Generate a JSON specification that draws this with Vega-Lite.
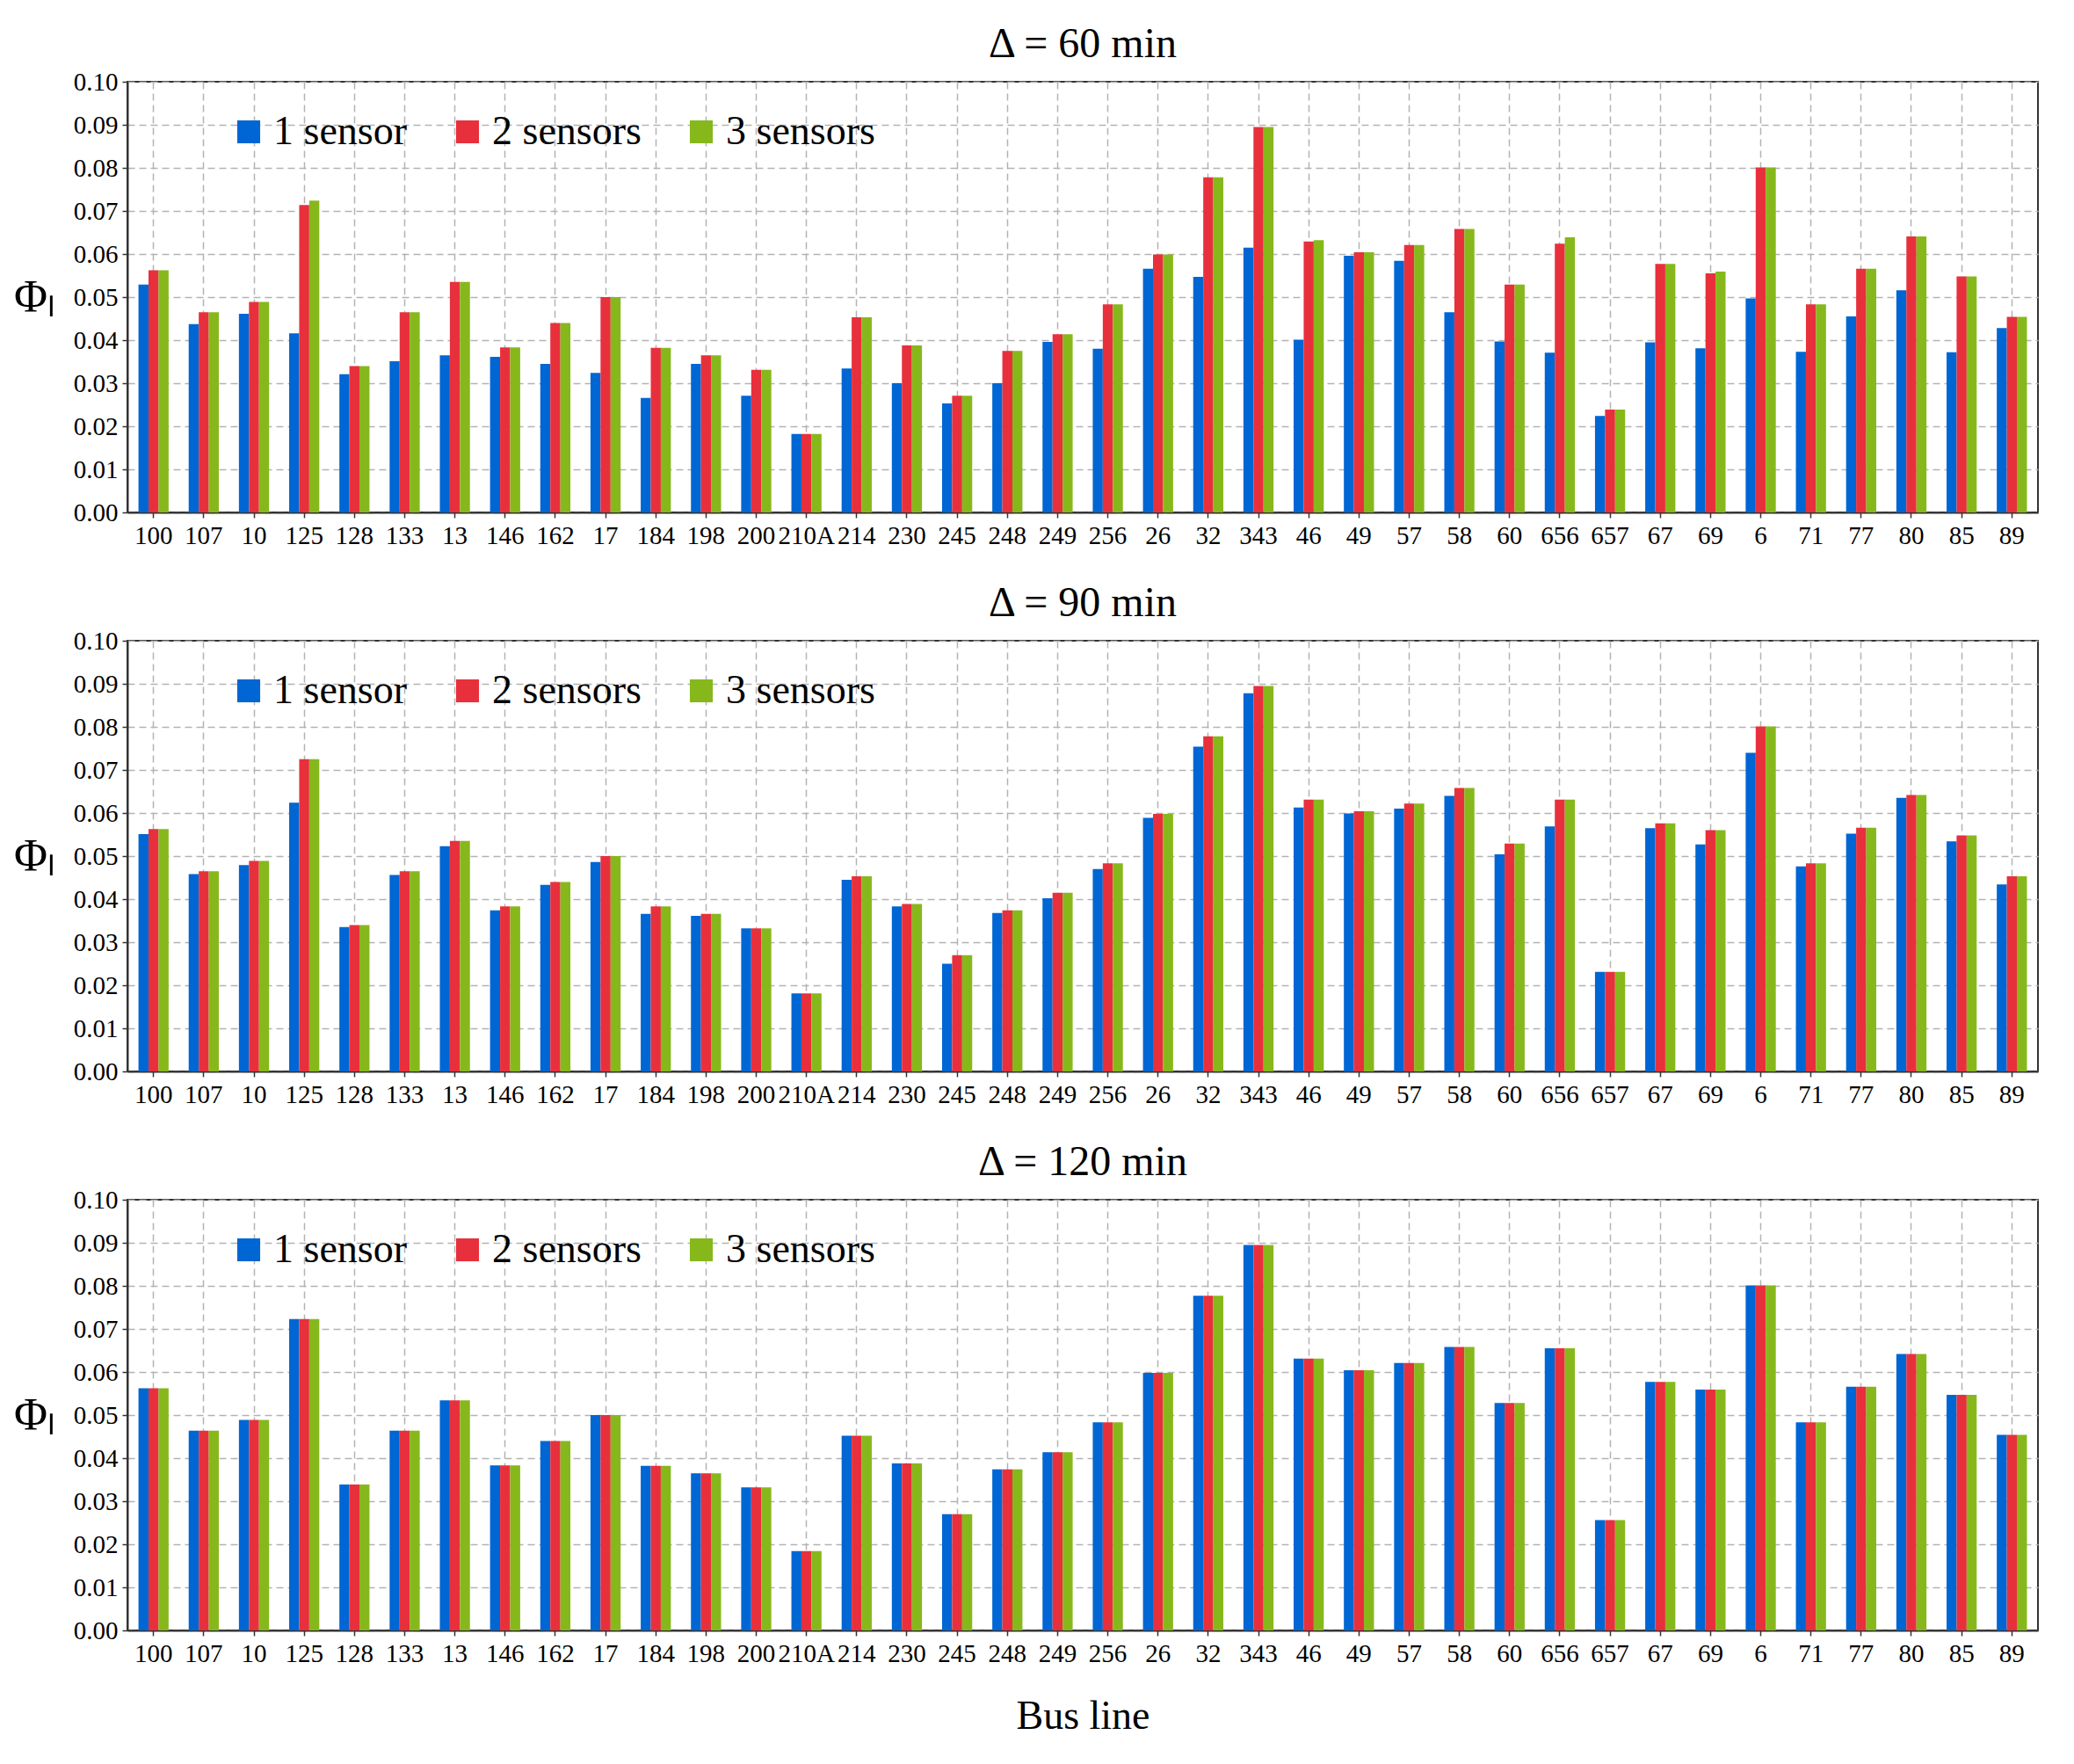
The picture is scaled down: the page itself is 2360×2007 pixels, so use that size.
{
  "$schema": "https://vega.github.io/schema/vega-lite/v6.json",
  "padding": {"left": 14, "top": 26, "right": 20, "bottom": 10},
  "background": "white",
  "datasets": {
    "d60": [
      {"line": "100", "sensors": "1 sensor", "phi": 0.0529}, {"line": "100", "sensors": "2 sensors", "phi": 0.0562}, {"line": "100", "sensors": "3 sensors", "phi": 0.0562},
      {"line": "107", "sensors": "1 sensor", "phi": 0.0437}, {"line": "107", "sensors": "2 sensors", "phi": 0.0465}, {"line": "107", "sensors": "3 sensors", "phi": 0.0465},
      {"line": "10", "sensors": "1 sensor", "phi": 0.0461}, {"line": "10", "sensors": "2 sensors", "phi": 0.0489}, {"line": "10", "sensors": "3 sensors", "phi": 0.0489},
      {"line": "125", "sensors": "1 sensor", "phi": 0.0416}, {"line": "125", "sensors": "2 sensors", "phi": 0.0714}, {"line": "125", "sensors": "3 sensors", "phi": 0.0724},
      {"line": "128", "sensors": "1 sensor", "phi": 0.0321}, {"line": "128", "sensors": "2 sensors", "phi": 0.0340}, {"line": "128", "sensors": "3 sensors", "phi": 0.0340},
      {"line": "133", "sensors": "1 sensor", "phi": 0.0351}, {"line": "133", "sensors": "2 sensors", "phi": 0.0465}, {"line": "133", "sensors": "3 sensors", "phi": 0.0465},
      {"line": "13", "sensors": "1 sensor", "phi": 0.0365}, {"line": "13", "sensors": "2 sensors", "phi": 0.0535}, {"line": "13", "sensors": "3 sensors", "phi": 0.0535},
      {"line": "146", "sensors": "1 sensor", "phi": 0.0361}, {"line": "146", "sensors": "2 sensors", "phi": 0.0383}, {"line": "146", "sensors": "3 sensors", "phi": 0.0383},
      {"line": "162", "sensors": "1 sensor", "phi": 0.0345}, {"line": "162", "sensors": "2 sensors", "phi": 0.0440}, {"line": "162", "sensors": "3 sensors", "phi": 0.0440},
      {"line": "17", "sensors": "1 sensor", "phi": 0.0324}, {"line": "17", "sensors": "2 sensors", "phi": 0.0500}, {"line": "17", "sensors": "3 sensors", "phi": 0.0500},
      {"line": "184", "sensors": "1 sensor", "phi": 0.0266}, {"line": "184", "sensors": "2 sensors", "phi": 0.0382}, {"line": "184", "sensors": "3 sensors", "phi": 0.0382},
      {"line": "198", "sensors": "1 sensor", "phi": 0.0345}, {"line": "198", "sensors": "2 sensors", "phi": 0.0365}, {"line": "198", "sensors": "3 sensors", "phi": 0.0365},
      {"line": "200", "sensors": "1 sensor", "phi": 0.0271}, {"line": "200", "sensors": "2 sensors", "phi": 0.0331}, {"line": "200", "sensors": "3 sensors", "phi": 0.0331},
      {"line": "210A", "sensors": "1 sensor", "phi": 0.0182}, {"line": "210A", "sensors": "2 sensors", "phi": 0.0182}, {"line": "210A", "sensors": "3 sensors", "phi": 0.0182},
      {"line": "214", "sensors": "1 sensor", "phi": 0.0334}, {"line": "214", "sensors": "2 sensors", "phi": 0.0453}, {"line": "214", "sensors": "3 sensors", "phi": 0.0453},
      {"line": "230", "sensors": "1 sensor", "phi": 0.0300}, {"line": "230", "sensors": "2 sensors", "phi": 0.0388}, {"line": "230", "sensors": "3 sensors", "phi": 0.0388},
      {"line": "245", "sensors": "1 sensor", "phi": 0.0253}, {"line": "245", "sensors": "2 sensors", "phi": 0.0271}, {"line": "245", "sensors": "3 sensors", "phi": 0.0271},
      {"line": "248", "sensors": "1 sensor", "phi": 0.0300}, {"line": "248", "sensors": "2 sensors", "phi": 0.0375}, {"line": "248", "sensors": "3 sensors", "phi": 0.0375},
      {"line": "249", "sensors": "1 sensor", "phi": 0.0396}, {"line": "249", "sensors": "2 sensors", "phi": 0.0414}, {"line": "249", "sensors": "3 sensors", "phi": 0.0414},
      {"line": "256", "sensors": "1 sensor", "phi": 0.0380}, {"line": "256", "sensors": "2 sensors", "phi": 0.0483}, {"line": "256", "sensors": "3 sensors", "phi": 0.0483},
      {"line": "26", "sensors": "1 sensor", "phi": 0.0566}, {"line": "26", "sensors": "2 sensors", "phi": 0.0599}, {"line": "26", "sensors": "3 sensors", "phi": 0.0599},
      {"line": "32", "sensors": "1 sensor", "phi": 0.0547}, {"line": "32", "sensors": "2 sensors", "phi": 0.0778}, {"line": "32", "sensors": "3 sensors", "phi": 0.0778},
      {"line": "343", "sensors": "1 sensor", "phi": 0.0615}, {"line": "343", "sensors": "2 sensors", "phi": 0.0895}, {"line": "343", "sensors": "3 sensors", "phi": 0.0895},
      {"line": "46", "sensors": "1 sensor", "phi": 0.0401}, {"line": "46", "sensors": "2 sensors", "phi": 0.0629}, {"line": "46", "sensors": "3 sensors", "phi": 0.0632},
      {"line": "49", "sensors": "1 sensor", "phi": 0.0596}, {"line": "49", "sensors": "2 sensors", "phi": 0.0604}, {"line": "49", "sensors": "3 sensors", "phi": 0.0604},
      {"line": "57", "sensors": "1 sensor", "phi": 0.0584}, {"line": "57", "sensors": "2 sensors", "phi": 0.0621}, {"line": "57", "sensors": "3 sensors", "phi": 0.0621},
      {"line": "58", "sensors": "1 sensor", "phi": 0.0465}, {"line": "58", "sensors": "2 sensors", "phi": 0.0658}, {"line": "58", "sensors": "3 sensors", "phi": 0.0658},
      {"line": "60", "sensors": "1 sensor", "phi": 0.0397}, {"line": "60", "sensors": "2 sensors", "phi": 0.0529}, {"line": "60", "sensors": "3 sensors", "phi": 0.0529},
      {"line": "656", "sensors": "1 sensor", "phi": 0.0371}, {"line": "656", "sensors": "2 sensors", "phi": 0.0624}, {"line": "656", "sensors": "3 sensors", "phi": 0.0639},
      {"line": "657", "sensors": "1 sensor", "phi": 0.0224}, {"line": "657", "sensors": "2 sensors", "phi": 0.0239}, {"line": "657", "sensors": "3 sensors", "phi": 0.0239},
      {"line": "67", "sensors": "1 sensor", "phi": 0.0395}, {"line": "67", "sensors": "2 sensors", "phi": 0.0577}, {"line": "67", "sensors": "3 sensors", "phi": 0.0577},
      {"line": "69", "sensors": "1 sensor", "phi": 0.0381}, {"line": "69", "sensors": "2 sensors", "phi": 0.0555}, {"line": "69", "sensors": "3 sensors", "phi": 0.0559},
      {"line": "6", "sensors": "1 sensor", "phi": 0.0497}, {"line": "6", "sensors": "2 sensors", "phi": 0.0801}, {"line": "6", "sensors": "3 sensors", "phi": 0.0801},
      {"line": "71", "sensors": "1 sensor", "phi": 0.0373}, {"line": "71", "sensors": "2 sensors", "phi": 0.0483}, {"line": "71", "sensors": "3 sensors", "phi": 0.0483},
      {"line": "77", "sensors": "1 sensor", "phi": 0.0455}, {"line": "77", "sensors": "2 sensors", "phi": 0.0566}, {"line": "77", "sensors": "3 sensors", "phi": 0.0566},
      {"line": "80", "sensors": "1 sensor", "phi": 0.0516}, {"line": "80", "sensors": "2 sensors", "phi": 0.0641}, {"line": "80", "sensors": "3 sensors", "phi": 0.0641},
      {"line": "85", "sensors": "1 sensor", "phi": 0.0372}, {"line": "85", "sensors": "2 sensors", "phi": 0.0548}, {"line": "85", "sensors": "3 sensors", "phi": 0.0548},
      {"line": "89", "sensors": "1 sensor", "phi": 0.0428}, {"line": "89", "sensors": "2 sensors", "phi": 0.0454}, {"line": "89", "sensors": "3 sensors", "phi": 0.0454}
    ],
    "d90": [
      {"line": "100", "sensors": "1 sensor", "phi": 0.0551}, {"line": "100", "sensors": "2 sensors", "phi": 0.0563}, {"line": "100", "sensors": "3 sensors", "phi": 0.0563},
      {"line": "107", "sensors": "1 sensor", "phi": 0.0458}, {"line": "107", "sensors": "2 sensors", "phi": 0.0465}, {"line": "107", "sensors": "3 sensors", "phi": 0.0465},
      {"line": "10", "sensors": "1 sensor", "phi": 0.0479}, {"line": "10", "sensors": "2 sensors", "phi": 0.0489}, {"line": "10", "sensors": "3 sensors", "phi": 0.0489},
      {"line": "125", "sensors": "1 sensor", "phi": 0.0624}, {"line": "125", "sensors": "2 sensors", "phi": 0.0725}, {"line": "125", "sensors": "3 sensors", "phi": 0.0725},
      {"line": "128", "sensors": "1 sensor", "phi": 0.0335}, {"line": "128", "sensors": "2 sensors", "phi": 0.0340}, {"line": "128", "sensors": "3 sensors", "phi": 0.0340},
      {"line": "133", "sensors": "1 sensor", "phi": 0.0456}, {"line": "133", "sensors": "2 sensors", "phi": 0.0465}, {"line": "133", "sensors": "3 sensors", "phi": 0.0465},
      {"line": "13", "sensors": "1 sensor", "phi": 0.0523}, {"line": "13", "sensors": "2 sensors", "phi": 0.0535}, {"line": "13", "sensors": "3 sensors", "phi": 0.0535},
      {"line": "146", "sensors": "1 sensor", "phi": 0.0374}, {"line": "146", "sensors": "2 sensors", "phi": 0.0383}, {"line": "146", "sensors": "3 sensors", "phi": 0.0383},
      {"line": "162", "sensors": "1 sensor", "phi": 0.0433}, {"line": "162", "sensors": "2 sensors", "phi": 0.0440}, {"line": "162", "sensors": "3 sensors", "phi": 0.0440},
      {"line": "17", "sensors": "1 sensor", "phi": 0.0486}, {"line": "17", "sensors": "2 sensors", "phi": 0.0500}, {"line": "17", "sensors": "3 sensors", "phi": 0.0500},
      {"line": "184", "sensors": "1 sensor", "phi": 0.0366}, {"line": "184", "sensors": "2 sensors", "phi": 0.0383}, {"line": "184", "sensors": "3 sensors", "phi": 0.0383},
      {"line": "198", "sensors": "1 sensor", "phi": 0.0361}, {"line": "198", "sensors": "2 sensors", "phi": 0.0366}, {"line": "198", "sensors": "3 sensors", "phi": 0.0366},
      {"line": "200", "sensors": "1 sensor", "phi": 0.0332}, {"line": "200", "sensors": "2 sensors", "phi": 0.0332}, {"line": "200", "sensors": "3 sensors", "phi": 0.0332},
      {"line": "210A", "sensors": "1 sensor", "phi": 0.0181}, {"line": "210A", "sensors": "2 sensors", "phi": 0.0181}, {"line": "210A", "sensors": "3 sensors", "phi": 0.0181},
      {"line": "214", "sensors": "1 sensor", "phi": 0.0445}, {"line": "214", "sensors": "2 sensors", "phi": 0.0453}, {"line": "214", "sensors": "3 sensors", "phi": 0.0453},
      {"line": "230", "sensors": "1 sensor", "phi": 0.0383}, {"line": "230", "sensors": "2 sensors", "phi": 0.0389}, {"line": "230", "sensors": "3 sensors", "phi": 0.0389},
      {"line": "245", "sensors": "1 sensor", "phi": 0.0250}, {"line": "245", "sensors": "2 sensors", "phi": 0.0270}, {"line": "245", "sensors": "3 sensors", "phi": 0.0270},
      {"line": "248", "sensors": "1 sensor", "phi": 0.0368}, {"line": "248", "sensors": "2 sensors", "phi": 0.0374}, {"line": "248", "sensors": "3 sensors", "phi": 0.0374},
      {"line": "249", "sensors": "1 sensor", "phi": 0.0402}, {"line": "249", "sensors": "2 sensors", "phi": 0.0415}, {"line": "249", "sensors": "3 sensors", "phi": 0.0415},
      {"line": "256", "sensors": "1 sensor", "phi": 0.0470}, {"line": "256", "sensors": "2 sensors", "phi": 0.0483}, {"line": "256", "sensors": "3 sensors", "phi": 0.0483},
      {"line": "26", "sensors": "1 sensor", "phi": 0.0589}, {"line": "26", "sensors": "2 sensors", "phi": 0.0598}, {"line": "26", "sensors": "3 sensors", "phi": 0.0598},
      {"line": "32", "sensors": "1 sensor", "phi": 0.0754}, {"line": "32", "sensors": "2 sensors", "phi": 0.0778}, {"line": "32", "sensors": "3 sensors", "phi": 0.0778},
      {"line": "343", "sensors": "1 sensor", "phi": 0.0878}, {"line": "343", "sensors": "2 sensors", "phi": 0.0895}, {"line": "343", "sensors": "3 sensors", "phi": 0.0895},
      {"line": "46", "sensors": "1 sensor", "phi": 0.0613}, {"line": "46", "sensors": "2 sensors", "phi": 0.0631}, {"line": "46", "sensors": "3 sensors", "phi": 0.0631},
      {"line": "49", "sensors": "1 sensor", "phi": 0.0599}, {"line": "49", "sensors": "2 sensors", "phi": 0.0604}, {"line": "49", "sensors": "3 sensors", "phi": 0.0604},
      {"line": "57", "sensors": "1 sensor", "phi": 0.0610}, {"line": "57", "sensors": "2 sensors", "phi": 0.0622}, {"line": "57", "sensors": "3 sensors", "phi": 0.0622},
      {"line": "58", "sensors": "1 sensor", "phi": 0.0640}, {"line": "58", "sensors": "2 sensors", "phi": 0.0658}, {"line": "58", "sensors": "3 sensors", "phi": 0.0658},
      {"line": "60", "sensors": "1 sensor", "phi": 0.0504}, {"line": "60", "sensors": "2 sensors", "phi": 0.0529}, {"line": "60", "sensors": "3 sensors", "phi": 0.0529},
      {"line": "656", "sensors": "1 sensor", "phi": 0.0569}, {"line": "656", "sensors": "2 sensors", "phi": 0.0631}, {"line": "656", "sensors": "3 sensors", "phi": 0.0631},
      {"line": "657", "sensors": "1 sensor", "phi": 0.0231}, {"line": "657", "sensors": "2 sensors", "phi": 0.0231}, {"line": "657", "sensors": "3 sensors", "phi": 0.0231},
      {"line": "67", "sensors": "1 sensor", "phi": 0.0565}, {"line": "67", "sensors": "2 sensors", "phi": 0.0576}, {"line": "67", "sensors": "3 sensors", "phi": 0.0576},
      {"line": "69", "sensors": "1 sensor", "phi": 0.0527}, {"line": "69", "sensors": "2 sensors", "phi": 0.0560}, {"line": "69", "sensors": "3 sensors", "phi": 0.0560},
      {"line": "6", "sensors": "1 sensor", "phi": 0.0740}, {"line": "6", "sensors": "2 sensors", "phi": 0.0801}, {"line": "6", "sensors": "3 sensors", "phi": 0.0801},
      {"line": "71", "sensors": "1 sensor", "phi": 0.0476}, {"line": "71", "sensors": "2 sensors", "phi": 0.0483}, {"line": "71", "sensors": "3 sensors", "phi": 0.0483},
      {"line": "77", "sensors": "1 sensor", "phi": 0.0552}, {"line": "77", "sensors": "2 sensors", "phi": 0.0566}, {"line": "77", "sensors": "3 sensors", "phi": 0.0566},
      {"line": "80", "sensors": "1 sensor", "phi": 0.0635}, {"line": "80", "sensors": "2 sensors", "phi": 0.0642}, {"line": "80", "sensors": "3 sensors", "phi": 0.0642},
      {"line": "85", "sensors": "1 sensor", "phi": 0.0534}, {"line": "85", "sensors": "2 sensors", "phi": 0.0548}, {"line": "85", "sensors": "3 sensors", "phi": 0.0548},
      {"line": "89", "sensors": "1 sensor", "phi": 0.0434}, {"line": "89", "sensors": "2 sensors", "phi": 0.0453}, {"line": "89", "sensors": "3 sensors", "phi": 0.0453}
    ],
    "d120": [
      {"line": "100", "sensors": "1 sensor", "phi": 0.0562}, {"line": "100", "sensors": "2 sensors", "phi": 0.0562}, {"line": "100", "sensors": "3 sensors", "phi": 0.0562},
      {"line": "107", "sensors": "1 sensor", "phi": 0.0464}, {"line": "107", "sensors": "2 sensors", "phi": 0.0464}, {"line": "107", "sensors": "3 sensors", "phi": 0.0464},
      {"line": "10", "sensors": "1 sensor", "phi": 0.0489}, {"line": "10", "sensors": "2 sensors", "phi": 0.0489}, {"line": "10", "sensors": "3 sensors", "phi": 0.0489},
      {"line": "125", "sensors": "1 sensor", "phi": 0.0723}, {"line": "125", "sensors": "2 sensors", "phi": 0.0723}, {"line": "125", "sensors": "3 sensors", "phi": 0.0723},
      {"line": "128", "sensors": "1 sensor", "phi": 0.0339}, {"line": "128", "sensors": "2 sensors", "phi": 0.0339}, {"line": "128", "sensors": "3 sensors", "phi": 0.0339},
      {"line": "133", "sensors": "1 sensor", "phi": 0.0464}, {"line": "133", "sensors": "2 sensors", "phi": 0.0464}, {"line": "133", "sensors": "3 sensors", "phi": 0.0464},
      {"line": "13", "sensors": "1 sensor", "phi": 0.0534}, {"line": "13", "sensors": "2 sensors", "phi": 0.0534}, {"line": "13", "sensors": "3 sensors", "phi": 0.0534},
      {"line": "146", "sensors": "1 sensor", "phi": 0.0383}, {"line": "146", "sensors": "2 sensors", "phi": 0.0383}, {"line": "146", "sensors": "3 sensors", "phi": 0.0383},
      {"line": "162", "sensors": "1 sensor", "phi": 0.0440}, {"line": "162", "sensors": "2 sensors", "phi": 0.0440}, {"line": "162", "sensors": "3 sensors", "phi": 0.0440},
      {"line": "17", "sensors": "1 sensor", "phi": 0.0500}, {"line": "17", "sensors": "2 sensors", "phi": 0.0500}, {"line": "17", "sensors": "3 sensors", "phi": 0.0500},
      {"line": "184", "sensors": "1 sensor", "phi": 0.0382}, {"line": "184", "sensors": "2 sensors", "phi": 0.0382}, {"line": "184", "sensors": "3 sensors", "phi": 0.0382},
      {"line": "198", "sensors": "1 sensor", "phi": 0.0365}, {"line": "198", "sensors": "2 sensors", "phi": 0.0365}, {"line": "198", "sensors": "3 sensors", "phi": 0.0365},
      {"line": "200", "sensors": "1 sensor", "phi": 0.0332}, {"line": "200", "sensors": "2 sensors", "phi": 0.0332}, {"line": "200", "sensors": "3 sensors", "phi": 0.0332},
      {"line": "210A", "sensors": "1 sensor", "phi": 0.0184}, {"line": "210A", "sensors": "2 sensors", "phi": 0.0184}, {"line": "210A", "sensors": "3 sensors", "phi": 0.0184},
      {"line": "214", "sensors": "1 sensor", "phi": 0.0452}, {"line": "214", "sensors": "2 sensors", "phi": 0.0452}, {"line": "214", "sensors": "3 sensors", "phi": 0.0452},
      {"line": "230", "sensors": "1 sensor", "phi": 0.0388}, {"line": "230", "sensors": "2 sensors", "phi": 0.0388}, {"line": "230", "sensors": "3 sensors", "phi": 0.0388},
      {"line": "245", "sensors": "1 sensor", "phi": 0.0270}, {"line": "245", "sensors": "2 sensors", "phi": 0.0270}, {"line": "245", "sensors": "3 sensors", "phi": 0.0270},
      {"line": "248", "sensors": "1 sensor", "phi": 0.0374}, {"line": "248", "sensors": "2 sensors", "phi": 0.0374}, {"line": "248", "sensors": "3 sensors", "phi": 0.0374},
      {"line": "249", "sensors": "1 sensor", "phi": 0.0414}, {"line": "249", "sensors": "2 sensors", "phi": 0.0414}, {"line": "249", "sensors": "3 sensors", "phi": 0.0414},
      {"line": "256", "sensors": "1 sensor", "phi": 0.0483}, {"line": "256", "sensors": "2 sensors", "phi": 0.0483}, {"line": "256", "sensors": "3 sensors", "phi": 0.0483},
      {"line": "26", "sensors": "1 sensor", "phi": 0.0598}, {"line": "26", "sensors": "2 sensors", "phi": 0.0598}, {"line": "26", "sensors": "3 sensors", "phi": 0.0598},
      {"line": "32", "sensors": "1 sensor", "phi": 0.0777}, {"line": "32", "sensors": "2 sensors", "phi": 0.0777}, {"line": "32", "sensors": "3 sensors", "phi": 0.0777},
      {"line": "343", "sensors": "1 sensor", "phi": 0.0895}, {"line": "343", "sensors": "2 sensors", "phi": 0.0895}, {"line": "343", "sensors": "3 sensors", "phi": 0.0895},
      {"line": "46", "sensors": "1 sensor", "phi": 0.0631}, {"line": "46", "sensors": "2 sensors", "phi": 0.0631}, {"line": "46", "sensors": "3 sensors", "phi": 0.0631},
      {"line": "49", "sensors": "1 sensor", "phi": 0.0604}, {"line": "49", "sensors": "2 sensors", "phi": 0.0604}, {"line": "49", "sensors": "3 sensors", "phi": 0.0604},
      {"line": "57", "sensors": "1 sensor", "phi": 0.0621}, {"line": "57", "sensors": "2 sensors", "phi": 0.0621}, {"line": "57", "sensors": "3 sensors", "phi": 0.0621},
      {"line": "58", "sensors": "1 sensor", "phi": 0.0658}, {"line": "58", "sensors": "2 sensors", "phi": 0.0658}, {"line": "58", "sensors": "3 sensors", "phi": 0.0658},
      {"line": "60", "sensors": "1 sensor", "phi": 0.0528}, {"line": "60", "sensors": "2 sensors", "phi": 0.0528}, {"line": "60", "sensors": "3 sensors", "phi": 0.0528},
      {"line": "656", "sensors": "1 sensor", "phi": 0.0655}, {"line": "656", "sensors": "2 sensors", "phi": 0.0655}, {"line": "656", "sensors": "3 sensors", "phi": 0.0655},
      {"line": "657", "sensors": "1 sensor", "phi": 0.0256}, {"line": "657", "sensors": "2 sensors", "phi": 0.0256}, {"line": "657", "sensors": "3 sensors", "phi": 0.0256},
      {"line": "67", "sensors": "1 sensor", "phi": 0.0577}, {"line": "67", "sensors": "2 sensors", "phi": 0.0577}, {"line": "67", "sensors": "3 sensors", "phi": 0.0577},
      {"line": "69", "sensors": "1 sensor", "phi": 0.0559}, {"line": "69", "sensors": "2 sensors", "phi": 0.0559}, {"line": "69", "sensors": "3 sensors", "phi": 0.0559},
      {"line": "6", "sensors": "1 sensor", "phi": 0.0801}, {"line": "6", "sensors": "2 sensors", "phi": 0.0801}, {"line": "6", "sensors": "3 sensors", "phi": 0.0801},
      {"line": "71", "sensors": "1 sensor", "phi": 0.0483}, {"line": "71", "sensors": "2 sensors", "phi": 0.0483}, {"line": "71", "sensors": "3 sensors", "phi": 0.0483},
      {"line": "77", "sensors": "1 sensor", "phi": 0.0566}, {"line": "77", "sensors": "2 sensors", "phi": 0.0566}, {"line": "77", "sensors": "3 sensors", "phi": 0.0566},
      {"line": "80", "sensors": "1 sensor", "phi": 0.0642}, {"line": "80", "sensors": "2 sensors", "phi": 0.0642}, {"line": "80", "sensors": "3 sensors", "phi": 0.0642},
      {"line": "85", "sensors": "1 sensor", "phi": 0.0547}, {"line": "85", "sensors": "2 sensors", "phi": 0.0547}, {"line": "85", "sensors": "3 sensors", "phi": 0.0547},
      {"line": "89", "sensors": "1 sensor", "phi": 0.0454}, {"line": "89", "sensors": "2 sensors", "phi": 0.0454}, {"line": "89", "sensors": "3 sensors", "phi": 0.0454}
    ]
  },
  "spacing": 37,
  "resolve": {"legend": {"color": "independent"}},
  "vconcat": [
    {
      "title": "Δ = 60 min",
      "data": {"name": "d60"},
      "width": 2174,
      "height": 490,
      "mark": "bar",
      "encoding": {
        "x": {"field": "line", "type": "nominal", "sort": null, "scale": {"paddingInner": 0, "paddingOuter": 0.02}, "axis": {"title": null, "labelAngle": 0, "bandPosition": 0.5}},
        "xOffset": {"field": "sensors", "type": "nominal", "scale": {"paddingInner": 0, "paddingOuter": 1}},
        "y": {"field": "phi", "type": "quantitative", "scale": {"domain": [0, 0.1], "nice": false}, "axis": {"title": "Φₗ", "format": ".2f", "values": [0, 0.01, 0.02, 0.03, 0.04, 0.05, 0.06, 0.07, 0.08, 0.09, 0.1]}},
        "color": {"field": "sensors", "type": "nominal", "scale": {"domain": ["1 sensor", "2 sensors", "3 sensors"], "range": ["#0066d4", "#e8303c", "#86b81c"]}, "legend": {"title": null, "orient": "none", "legendX": 115, "legendY": 34, "labelFont": "Liberation Serif", "encode": {"symbols": {"update": {"fill": {"signal": "datum.value === '1 sensor' ? '#4472c4' : datum.value === '2 sensors' ? '#e8303a' : '#86b81c'"}}}}}}
      }
    },
    {
      "title": "Δ = 90 min",
      "data": {"name": "d90"},
      "width": 2174,
      "height": 490,
      "mark": "bar",
      "encoding": {
        "x": {"field": "line", "type": "nominal", "sort": null, "scale": {"paddingInner": 0, "paddingOuter": 0.02}, "axis": {"title": null, "labelAngle": 0, "bandPosition": 0.5}},
        "xOffset": {"field": "sensors", "type": "nominal", "scale": {"paddingInner": 0, "paddingOuter": 1}},
        "y": {"field": "phi", "type": "quantitative", "scale": {"domain": [0, 0.1], "nice": false}, "axis": {"title": "Φₗ", "format": ".2f", "values": [0, 0.01, 0.02, 0.03, 0.04, 0.05, 0.06, 0.07, 0.08, 0.09, 0.1]}},
        "color": {"field": "sensors", "type": "nominal", "scale": {"domain": ["1 sensor", "2 sensors", "3 sensors"], "range": ["#0066d4", "#e8303c", "#86b81c"]}, "legend": {"title": null, "orient": "none", "legendX": 115, "legendY": 34, "labelFont": "Liberation Serif", "encode": {"symbols": {"update": {"fill": {"signal": "datum.value === '1 sensor' ? '#4472c4' : datum.value === '2 sensors' ? '#e8303a' : '#86b81c'"}}}}}}
      }
    },
    {
      "title": "Δ = 120 min",
      "data": {"name": "d120"},
      "width": 2174,
      "height": 490,
      "mark": "bar",
      "encoding": {
        "x": {"field": "line", "type": "nominal", "sort": null, "scale": {"paddingInner": 0, "paddingOuter": 0.02}, "axis": {"title": "Bus line", "labelAngle": 0, "bandPosition": 0.5}},
        "xOffset": {"field": "sensors", "type": "nominal", "scale": {"paddingInner": 0, "paddingOuter": 1}},
        "y": {"field": "phi", "type": "quantitative", "scale": {"domain": [0, 0.1], "nice": false}, "axis": {"title": "Φₗ", "format": ".2f", "values": [0, 0.01, 0.02, 0.03, 0.04, 0.05, 0.06, 0.07, 0.08, 0.09, 0.1]}},
        "color": {"field": "sensors", "type": "nominal", "scale": {"domain": ["1 sensor", "2 sensors", "3 sensors"], "range": ["#0066d4", "#e8303c", "#86b81c"]}, "legend": {"title": null, "orient": "none", "legendX": 115, "legendY": 34, "labelFont": "Liberation Serif", "encode": {"symbols": {"update": {"fill": {"signal": "datum.value === '1 sensor' ? '#4472c4' : datum.value === '2 sensors' ? '#e8303a' : '#86b81c'"}}}}}}
      }
    }
  ],
  "config": {
    "font": "Liberation Serif",
    "view": {"stroke": "#333333", "strokeWidth": 2},
    "title": {"font": "Liberation Serif", "fontSize": 48, "fontWeight": "normal", "color": "black", "anchor": "middle", "offset": 4},
    "axis": {
      "labelFont": "Liberation Serif",
      "labelFontSize": 29,
      "labelColor": "black",
      "titleFont": "Liberation Serif",
      "titleFontWeight": "normal",
      "titleColor": "black",
      "grid": true,
      "gridColor": "#b3b3b3",
      "gridDash": [8, 5],
      "gridWidth": 1.5,
      "gridOpacity": 1,
      "domainColor": "#333333",
      "domainWidth": 2,
      "tickColor": "#333333",
      "tickWidth": 1.5,
      "tickSize": 6,
      "zindex": 1
    },
    "axisX": {"labelPadding": 6, "titleFontSize": 46, "titlePadding": 34},
    "axisY": {"labelPadding": 5, "titleFontSize": 52, "titleAngle": 0, "titleAlign": "center", "titleBaseline": "middle", "titleX": -106, "titleY": 245},
    "legend": {
      "direction": "horizontal",
      "labelFont": "Liberation Serif",
      "labelFontSize": 46,
      "labelColor": "black",
      "labelOffset": 5,
      "symbolType": "square",
      "symbolSize": 680,
      "symbolStrokeWidth": 0,
      "symbolOpacity": 1,
      "columnPadding": 45,
      "padding": 0,
      "labelLimit": 400
    }
  }
}
